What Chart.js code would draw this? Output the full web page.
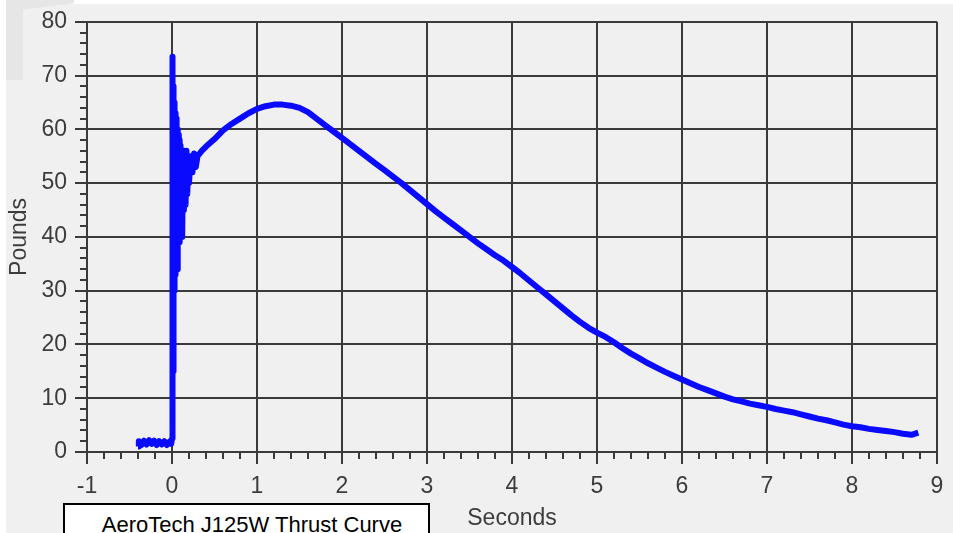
<!DOCTYPE html>
<html>
<head>
<meta charset="utf-8">
<title>AeroTech J125W Thrust Curve</title>
<script src="https://cdn.jsdelivr.net/npm/chart.js@4.4.1/dist/chart.umd.min.js"></script>
<style>
  body { margin: 0; background: #fff; }
  #wrap { position: relative; width: 953px; height: 533px; overflow: hidden; background: #fff; }
  #panel { position: absolute; left: 6px; top: 4px; right: 0; bottom: 0; background: #f0f0f0; }
  #shade { position: absolute; left: 6px; top: 0; width: 68px; height: 80px; background: #e6e6e6;
           clip-path: polygon(0 0, 100% 0, 100% 4%, 25% 12%, 25% 100%, 0 100%); }
  canvas { position: absolute; left: 0; top: 0; }
  #titleBox { position: absolute; left: 63px; top: 503px; width: 352px; height: 40px;
              padding-left: 11px; border: 2px solid #000; background: #fff;
              font: 22px "Liberation Sans", Arial, sans-serif; color: #000;
              text-align: center; line-height: 26px; padding-top: 7px; box-sizing: content-box; }
</style>
</head>
<body>
<div id="wrap">
  <div id="panel"></div>
  <div id="shade"></div>
  <canvas id="chart" width="953" height="533"></canvas>
  <div id="titleBox">AeroTech J125W Thrust Curve</div>
</div>
<script>
// thrust curve (seconds, pounds)
const seconds = [
  -0.40, -0.39, -0.36, -0.33, -0.30, -0.27, -0.24, -0.21, -0.18, -0.15, -0.12, -0.09, -0.06, -0.03, -0.01,
  0.000, 0.003, 0.006, 0.009, 0.012, 0.015, 0.018, 0.021, 0.024, 0.027, 0.030, 0.033, 0.036, 0.040,
  0.044, 0.048, 0.052, 0.056, 0.060, 0.065, 0.070, 0.075, 0.080, 0.085, 0.090, 0.095, 0.100, 0.110,
  0.120, 0.130, 0.140, 0.150, 0.160, 0.170, 0.180, 0.190, 0.200, 0.220, 0.240, 0.260, 0.280, 0.300,
  0.35, 0.4, 0.5, 0.6, 0.7, 0.8, 0.9, 1.0, 1.1, 1.2, 1.3, 1.4, 1.5, 1.6, 1.7, 1.8, 1.9,
  2.0, 2.1, 2.2, 2.3, 2.4, 2.5, 2.6, 2.7, 2.8, 2.9, 3.0, 3.1, 3.2, 3.3, 3.4, 3.5, 3.6, 3.7, 3.8, 3.9,
  4.0, 4.1, 4.2, 4.3, 4.4, 4.5, 4.6, 4.7, 4.8, 4.9, 5.0, 5.1, 5.2, 5.3, 5.4, 5.5, 5.6, 5.7, 5.8, 5.9,
  6.0, 6.1, 6.2, 6.3, 6.4, 6.5, 6.6, 6.7, 6.8, 6.9, 7.0, 7.1, 7.2, 7.3, 7.4, 7.5, 7.6, 7.7, 7.8, 7.9,
  8.0, 8.1, 8.2, 8.3, 8.4, 8.5, 8.6, 8.7, 8.78
];
const pounds = [
  1.0, 2.0, 1.3, 2.1, 1.4, 2.2, 1.5, 2.1, 1.3, 2.0, 1.4, 2.0, 1.3, 1.9, 1.5,
  2.5, 73.5, 13, 70, 15, 68, 25, 64, 35, 65, 30, 64, 36, 63,
  33, 62, 38, 61, 34, 60, 38, 59, 40, 58, 39, 57, 42, 56,
  40, 56, 45, 55, 46, 56, 48, 55, 50, 55, 52, 55.5, 53, 55,
  56, 56.8, 58.2, 59.8, 61, 62, 63, 63.8, 64.3, 64.6, 64.6, 64.4, 64, 63.2, 62, 60.8, 59.6,
  58.4, 57.2, 56, 54.8, 53.6, 52.4, 51.2, 50, 48.7, 47.4, 46.1, 44.8, 43.6, 42.4, 41.2, 40, 38.8, 37.7, 36.6, 35.6,
  34.4, 33.2, 31.9, 30.6, 29.3, 28, 26.7, 25.4, 24.2, 23.1, 22.2, 21.4, 20.4, 19.3, 18.3, 17.4, 16.5, 15.7, 14.9, 14.2,
  13.5, 12.8, 12.1, 11.5, 10.9, 10.3, 9.8, 9.4, 9.0, 8.7, 8.4, 8.0, 7.7, 7.4, 7.0, 6.6, 6.2, 5.9, 5.5, 5.1,
  4.8, 4.6, 4.3, 4.1, 3.9, 3.7, 3.4, 3.2, 3.6
];
const secondTicks = [-1, 0, 1, 2, 3, 4, 5, 6, 7, 8, 9];
const poundTicks = [0, 10, 20, 30, 40, 50, 60, 70, 80];

const axisFont = { family: '"Liberation Sans", Arial, sans-serif', size: 23 };
const axisColor = '#3c3c3c';
const gridColor = '#3a3a3a';

// small ticks between the labelled ones, placed through the chart's own scales
const minorTicks = {
  id: 'minorTicks',
  afterDraw(chart) {
    const { ctx, scales: { x, y } } = chart;
    ctx.save();
    ctx.strokeStyle = gridColor;
    ctx.lineWidth = 2;
    ctx.beginPath();
    for (let i = -5; i <= 45; i++) {
      if (i % 5 === 0) continue;
      const px = Math.round(x.getPixelForValue(i / 5));
      ctx.moveTo(px, y.bottom);
      ctx.lineTo(px, y.bottom + 7);
    }
    for (let i = 0; i <= 40; i++) {
      if (i % 5 === 0) continue;
      const py = Math.round(y.getPixelForValue(i * 2));
      ctx.moveTo(x.left - 7, py);
      ctx.lineTo(x.left, py);
    }
    ctx.stroke();
    ctx.restore();
  }
};

const ctx = document.getElementById('chart').getContext('2d');
new Chart(ctx, {
  type: 'line',
  data: {
    datasets: [{
      data: seconds.map((s, i) => ({ x: s, y: pounds[i] })),
      borderColor: '#0a0aff',
      borderWidth: 6,
      borderJoinStyle: 'round',
      pointRadius: 0,
      tension: 0,
      fill: false
    }]
  },
  options: {
    responsive: false,
    animation: false,
    devicePixelRatio: 1,
    layout: { padding: { top: 21, right: 16, left: 0, bottom: 0 } },
    plugins: { legend: { display: false }, tooltip: { enabled: false } },
    scales: {
      x: {
        type: 'linear',
        min: -1,
        max: 9,
        afterBuildTicks: (scale) => { scale.ticks = secondTicks.map(v => ({ value: v })); },
        afterFit: (scale) => { scale.height = 81; },
        ticks: { font: axisFont, color: axisColor, padding: 9, autoSkip: false, maxRotation: 0 },
        grid: { color: gridColor, lineWidth: 2, tickLength: 12, tickColor: gridColor },
        border: { display: true, color: gridColor, width: 2 },
        title: { display: true, text: 'Seconds', font: axisFont, color: axisColor, padding: { top: 0, bottom: 1 } }
      },
      y: {
        min: 0,
        max: 80,
        afterBuildTicks: (scale) => { scale.ticks = poundTicks.map(v => ({ value: v })); },
        afterFit: (scale) => { scale.width = 87; },
        ticks: { font: axisFont, color: axisColor, padding: 8, autoSkip: false },
        grid: { color: gridColor, lineWidth: 2, tickLength: 12, tickColor: gridColor },
        border: { display: true, color: gridColor, width: 2 },
        title: { display: true, text: 'Pounds', font: axisFont, color: axisColor, padding: { top: 6, bottom: 0 } }
      }
    }
  },
  plugins: [minorTicks]
});
</script>
</body>
</html>
